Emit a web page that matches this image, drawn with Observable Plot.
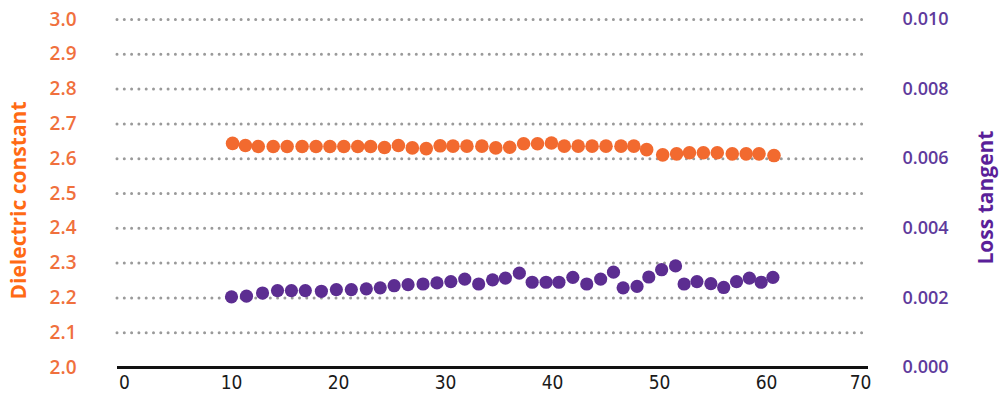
<!DOCTYPE html>
<html>
<head>
<meta charset="utf-8">
<script src="https://cdn.jsdelivr.net/npm/d3@7"></script>
<script src="https://cdn.jsdelivr.net/npm/@observablehq/plot@0.6"></script>
<style>
  html, body { margin: 0; padding: 0; background: #fff; }
  #chart svg { display: block; }
</style>
</head>
<body>
<div id="chart"></div>
<script>
// ---- data ----
const xTicks = [0, 10, 20, 30, 40, 50, 60, 70];
const leftTicks = [2.0, 2.1, 2.2, 2.3, 2.4, 2.5, 2.6, 2.7, 2.8, 2.9, 3.0];
const rightTicks = [0.000, 0.002, 0.004, 0.006, 0.008, 0.010];

const dkX = [10.1, 11.3, 12.5, 13.9, 15.2, 16.6, 17.9, 19.2, 20.5, 21.8,
             23.0, 24.3, 25.6, 26.9, 28.2, 29.5, 30.7, 32.0, 33.4, 34.7,
             36.0, 37.3, 38.6, 39.9, 41.1, 42.4, 43.7, 45.0, 46.4, 47.6,
             48.8, 50.3, 51.6, 52.8, 54.1, 55.4, 56.8, 58.1, 59.3, 60.7];
const dkValues = [2.644, 2.638, 2.635, 2.635, 2.635, 2.635, 2.635, 2.635, 2.635, 2.635,
                  2.635, 2.632, 2.638, 2.631, 2.629, 2.637, 2.636, 2.636, 2.636, 2.631,
                  2.633, 2.643, 2.643, 2.645, 2.636, 2.636, 2.636, 2.636, 2.636, 2.636,
                  2.626, 2.611, 2.614, 2.617, 2.617, 2.617, 2.614, 2.614, 2.614, 2.609];

const lossX = [10.0, 11.4, 12.9, 14.3, 15.6, 16.9, 18.4, 19.8, 21.2, 22.6,
               23.9, 25.2, 26.5, 27.9, 29.2, 30.5, 31.8, 33.1, 34.4, 35.6,
               36.9, 38.1, 39.4, 40.6, 41.9, 43.2, 44.5, 45.7, 46.6, 47.9,
               49.0, 50.2, 51.5, 52.3, 53.5, 54.8, 56.0, 57.2, 58.4, 59.5, 60.6];
const lossValues = [0.00203, 0.00205, 0.00214, 0.00221, 0.00221, 0.00221, 0.00219, 0.00224, 0.00224, 0.00226,
                    0.00229, 0.00235, 0.00238, 0.00240, 0.00243, 0.00247, 0.00254, 0.00240, 0.00252, 0.00257,
                    0.00271, 0.00245, 0.00245, 0.00245, 0.00259, 0.00240, 0.00254, 0.00274, 0.00229, 0.00233,
                    0.00260, 0.00281, 0.00292, 0.00240, 0.00247, 0.00241, 0.00230, 0.00247, 0.00257, 0.00245, 0.00259];

// ---- derived tables ----
const dk = dkX.map((x, i) => ({x, v: dkValues[i]}));
const loss = lossX.map((x, i) => ({x, v: lossValues[i]}));
// loss tangent axis 0..0.010 shares the frame with 2.0..3.0
const toLeft = v => 2 + v * 100;
const fromLeft = d => ((d - 2) / 100).toFixed(3);

const ORANGE = "#f26a2f";
const ORANGE_TXT = "#f0703d";
const ORANGE_TITLE = "#ff6a14";
const PURPLE = "#5c2d91";
const PURPLE_TXT = "#5e3a9c";
const PURPLE_TITLE = "#5a1f99";
const XFONT = "'DejaVu Sans Condensed', sans-serif";

const chart = Plot.plot({
  width: 1000,
  height: 398,
  marginTop: 19,
  marginBottom: 31,
  marginLeft: 124,
  marginRight: 127,
  style: {fontFamily: "'Open Sans', sans-serif", fontSize: "18px", background: "#fff"},
  x: {domain: [0, 70]},
  y: {domain: [2, 3]},
  marks: [
    Plot.ruleY(leftTicks.slice(1), {
      stroke: "#9a9a9a", strokeWidth: 3, strokeDasharray: "0,7.3", strokeLinecap: "round",
      insetLeft: -7, insetRight: 5
    }),
    Plot.ruleY([leftTicks[0]], {stroke: "#111", strokeWidth: 3, insetLeft: -7, insetRight: 5}),
    Plot.dot(dk, {x: "x", y: "v", r: 6.8, fill: ORANGE, stroke: "none"}),
    Plot.dot(loss, {x: "x", y: d => toLeft(d.v), r: 6.6, fill: PURPLE, stroke: "none"}),
    Plot.axisX(xTicks.slice(0, -1), {
      tickSize: 0, tickPadding: 8, label: null, fill: "#1a1a1a",
      fontFamily: XFONT, fontSize: 19, fontWeight: "normal", stroke: "#1a1a1a", strokeWidth: 0.7
    }),
    Plot.axisX(xTicks.slice(-1), {
      tickSize: 0, tickPadding: 8, label: null, fill: "#1a1a1a", dx: -13,
      fontFamily: XFONT, fontSize: 19, fontWeight: "normal", stroke: "#1a1a1a", strokeWidth: 0.7
    }),
    Plot.axisY(leftTicks, {
      anchor: "left", tickSize: 0, tickPadding: 48, label: null,
      tickFormat: d => d.toFixed(1), fill: ORANGE_TXT, fontWeight: 600, fontSize: 19
    }),
    Plot.axisY(rightTicks.map(toLeft), {
      anchor: "right", tickSize: 0, tickPadding: 29, label: null,
      tickFormat: fromLeft, fill: PURPLE_TXT, fontWeight: 600
    }),
    Plot.text(["Dielectric constant"], {
      frameAnchor: "left", textAnchor: "middle", dx: -105, dy: 7, rotate: -90,
      fill: ORANGE_TITLE, fontWeight: "bold", fontSize: 21
    }),
    Plot.text(["Loss tangent"], {
      frameAnchor: "right", textAnchor: "middle", dx: 113, dy: 4, rotate: -90,
      fill: PURPLE_TITLE, fontWeight: "bold", fontSize: 21
    })
  ]
});
document.getElementById("chart").appendChild(chart);
</script>
</body>
</html>
